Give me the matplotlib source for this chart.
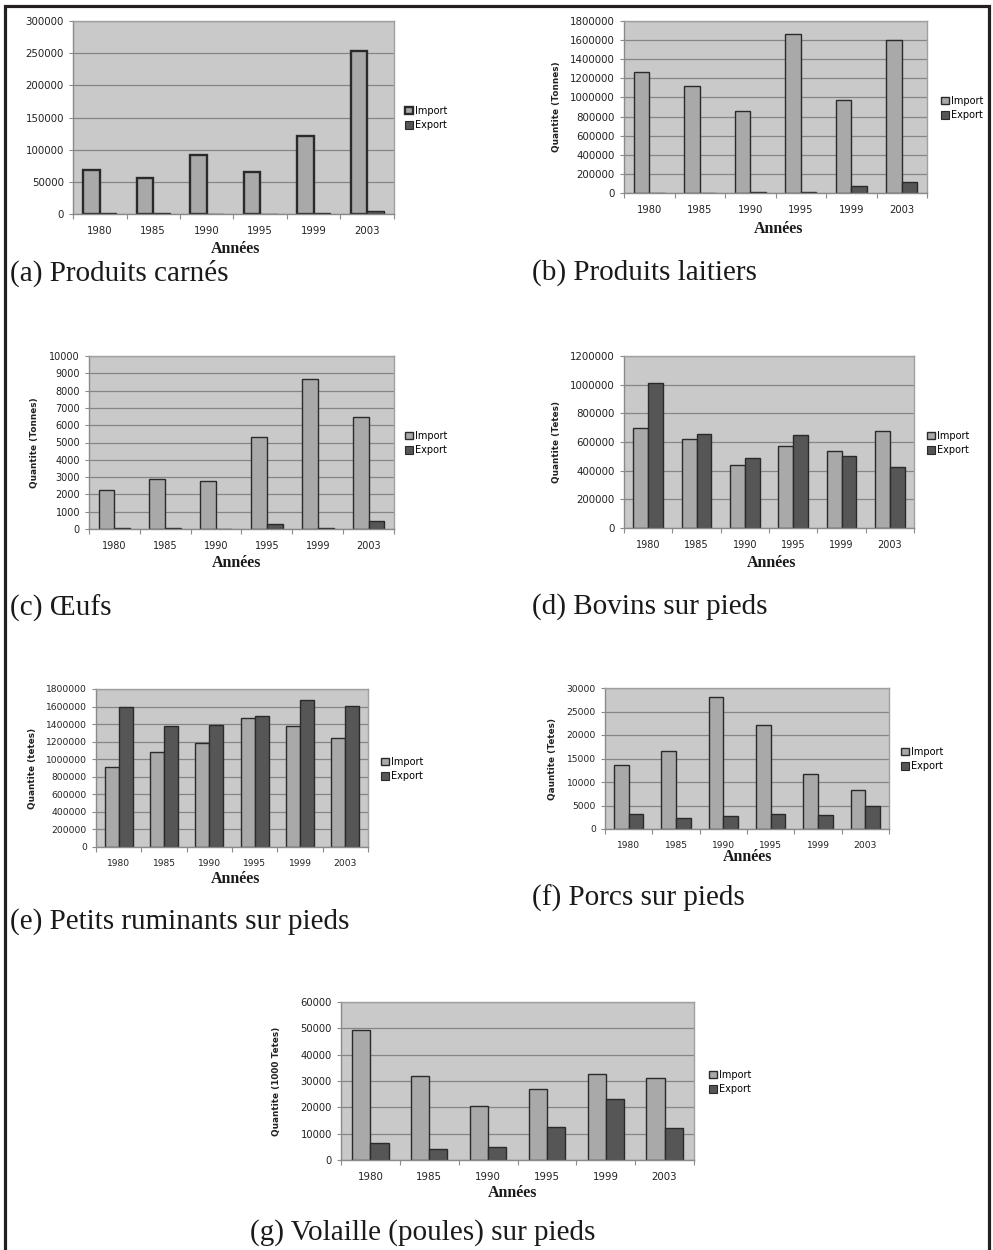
import matplotlib
matplotlib.use("Agg")
import matplotlib.pyplot as plt
from matplotlib.patches import Rectangle, Patch
import numpy as np

W, H = 993, 1250

years = ["1980", "1985", "1990", "1995", "1999", "2003"]
series_names = ["Import", "Export"]

# (a) Produits carnés
carnes_import = [68000, 56000, 91000, 65000, 122000, 253000]
carnes_export = [1000, 800, 0, 0, 1000, 5000]
# (b) Produits laitiers
laitiers_import = [1270000, 1120000, 860000, 1660000, 970000, 1600000]
laitiers_export = [0, 0, 15000, 8000, 75000, 120000]
# (c) Oeufs
oeufs_import = [2250, 2880, 2800, 5300, 8650, 6500]
oeufs_export = [30, 80, 0, 300, 30, 450]
# (d) Bovins sur pieds
bovins_import = [700000, 620000, 440000, 575000, 540000, 680000]
bovins_export = [1015000, 655000, 490000, 648000, 500000, 428000]
# (e) Petits ruminants sur pieds
ruminants_import = [910000, 1080000, 1180000, 1470000, 1380000, 1240000]
ruminants_export = [1600000, 1380000, 1390000, 1490000, 1680000, 1610000]
# (f) Porcs sur pieds
porcs_import = [13600, 16500, 28100, 22100, 11700, 8300]
porcs_export = [3200, 2400, 2700, 3200, 3000, 4800]
# (g) Volaille (poules) sur pieds
volaille_import = [49300, 32000, 20500, 26800, 32700, 31100]
volaille_export = [6300, 4300, 4800, 12600, 23200, 12200]

captions = ["(a) Produits carnés", "(b) Produits laitiers", "(c) \u0152ufs",
            "(d) Bovins sur pieds", "(e) Petits ruminants sur pieds",
            "(f) Porcs sur pieds", "(g) Volaille (poules) sur pieds"]
ylabels = [None, "Quantite (Tonnes)", "Quantite (Tonnes)", "Quantite (Tetes)",
           "Quantite (tetes)", "Qauntite (Tetes)", "Quantite (1000 Tetes)"]
yticks_list = [
    [0, 50000, 100000, 150000, 200000, 250000, 300000],
    list(range(0, 1800001, 200000)),
    list(range(0, 10001, 1000)),
    list(range(0, 1200001, 200000)),
    list(range(0, 1800001, 200000)),
    list(range(0, 30001, 5000)),
    list(range(0, 60001, 10000)),
]
data = [
    (carnes_import, carnes_export),
    (laitiers_import, laitiers_export),
    (oeufs_import, oeufs_export),
    (bovins_import, bovins_export),
    (ruminants_import, ruminants_export),
    (porcs_import, porcs_export),
    (volaille_import, volaille_export),
]

# layout in pixels: axes box (left, right, top, bottom), y-label x, "Années" (x, y),
# caption (x, y), legend anchor (x, y), tick font size
layout = [
    dict(ax=(73, 394, 21, 214), yl=None, an=(236, 249), cap=(10, 273), leg=(405, 118), fs=7.4, xfs=7.3),
    dict(ax=(624, 927, 21, 193), yl=556, an=(779, 229), cap=(532, 273), leg=(941, 108), fs=7.4, xfs=7.2),
    dict(ax=(89, 394, 356, 529), yl=34, an=(237, 563), cap=(10, 608), leg=(405, 443), fs=7.0, xfs=7.0),
    dict(ax=(624, 914, 356, 528), yl=556, an=(772, 563), cap=(532, 607), leg=(927, 443), fs=7.4, xfs=7.0),
    dict(ax=(96, 368, 689, 847), yl=32, an=(236, 879), cap=(10, 922), leg=(381, 769), fs=6.6, xfs=6.6),
    dict(ax=(605, 889, 688, 829), yl=553, an=(748, 857), cap=(532, 898), leg=(901, 759), fs=6.6, xfs=6.6),
    dict(ax=(341, 694, 1002, 1160), yl=276, an=(513, 1193), cap=(250, 1233), leg=(709, 1082), fs=7.2, xfs=7.4),
]

face = "#c9c9c9"
grid_c = "#858585"
imp_c = "#a9a9a9"
exp_c = "#565656"
edge_c = "#2a2a2a"

fig = plt.figure(figsize=(W / 100, H / 100), dpi=100)
fig.patch.set_facecolor("white")

x = np.arange(len(years))
bw = 0.31

for i, ((imp, exp), lay) in enumerate(zip(data, layout)):
    l, r, t, b = lay["ax"]
    ax = fig.add_axes([l / W, 1 - b / H, (r - l) / W, (b - t) / H])
    ax.set_facecolor(face)
    ax.set_axisbelow(True)
    ticks = yticks_list[i]
    ax.set_ylim(0, ticks[-1])
    ax.set_xlim(-0.5, len(years) - 0.5)
    ax.set_yticks(ticks)
    ax.set_yticklabels([str(v) for v in ticks], fontsize=lay["fs"], color="#222222")
    ax.yaxis.grid(True, color=grid_c, linewidth=0.9)
    ax.set_xticks(x)
    ax.set_xticklabels(years, fontsize=lay["xfs"], color="#222222")
    ax.set_xticks(np.arange(-0.5, len(years)), minor=True)
    ax.tick_params(axis="x", which="major", length=0, pad=8.5)
    ax.tick_params(axis="x", which="minor", length=3.5, color="#8a8a8a", width=0.8)
    ax.tick_params(axis="y", length=3, color="#8a8a8a", width=0.8, pad=3.5)
    for side, sp in ax.spines.items():
        sp.set_color("#a0a0a0" if side in ("top", "right") else "#8a8a8a")
        sp.set_linewidth(1.0)

    imp_lw = 1.7 if i == 0 else 1.0
    ax.bar(x - bw / 2, imp, width=bw, color=imp_c, edgecolor=edge_c, linewidth=imp_lw)
    ax.bar(x + bw / 2, exp, width=bw, color=exp_c, edgecolor=edge_c, linewidth=1.0)

    handles = [Patch(facecolor=imp_c, edgecolor=edge_c, linewidth=imp_lw),
               Patch(facecolor=exp_c, edgecolor=edge_c, linewidth=0.8)]
    lx, ly = lay["leg"]
    ax.legend(handles, series_names, loc="center left",
              bbox_to_anchor=(lx / W, 1 - ly / H), bbox_transform=fig.transFigure,
              frameon=False, fontsize=7, handlelength=0.8, handleheight=0.8,
              handletextpad=0.25, labelspacing=0.45, borderpad=0, borderaxespad=0)

    if lay["yl"] is not None:
        fig.text(lay["yl"] / W, 1 - ((t + b) / 2) / H, ylabels[i], rotation=90,
                 ha="center", va="center", fontsize=6.4, fontweight="bold",
                 family="DejaVu Sans", color="#222222")

    ax_x, ax_y = lay["an"]
    fig.text(ax_x / W, 1 - ax_y / H, "Années", ha="center", va="center",
             fontsize=11.5, fontweight="bold", family="Liberation Serif", color="#1a1a1a")
    cx, cy = lay["cap"]
    fig.text(cx / W, 1 - cy / H, captions[i], ha="left", va="center",
             fontsize=21, family="Liberation Serif", color="#1a1a1a")

# page frame
fig.add_artist(Rectangle((5 / W, -0.05), (988.5 - 5) / W, (1 - 6 / H) + 0.05,
                         transform=fig.transFigure, fill=False,
                         edgecolor="#231f20", linewidth=2.3, zorder=10))

fig.savefig("out.png", dpi=100, facecolor="white")
